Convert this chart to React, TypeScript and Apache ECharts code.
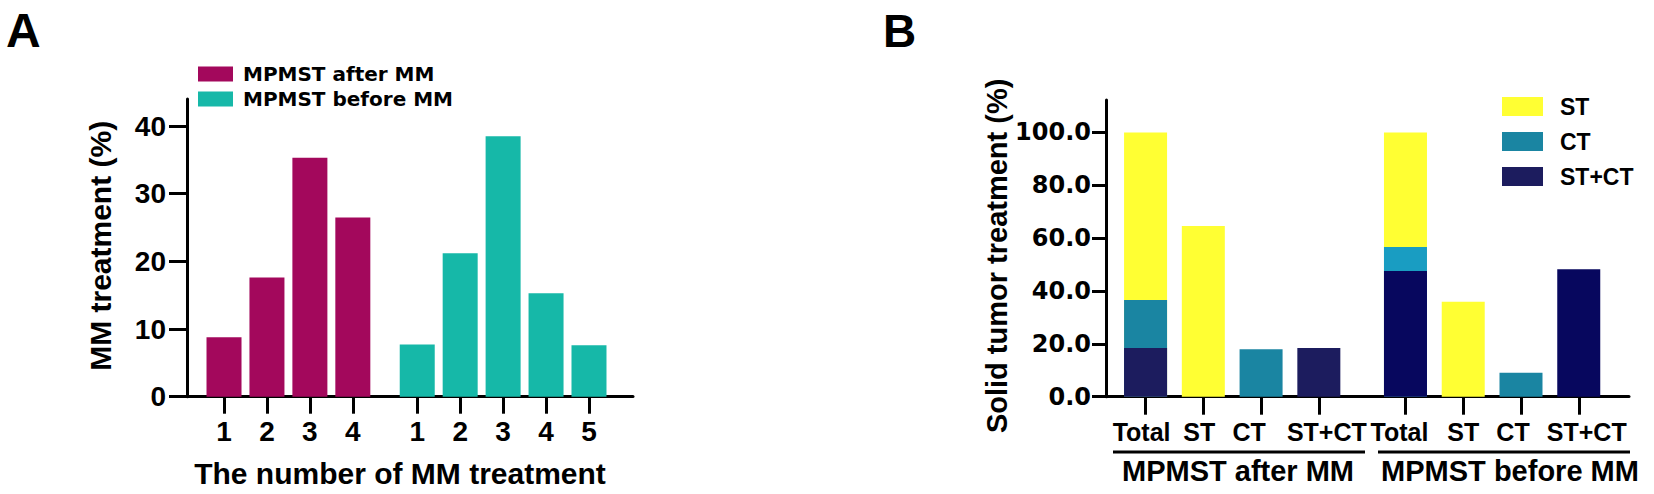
import React, { useEffect, useRef } from "react";
import * as echarts from "echarts";

// ---------- Panel A data ----------
const seriesNamesA = ["MPMST after MM", "MPMST before MM"];
const afterPosA = [1, 2, 3, 4];
const afterValuesA = [8.8, 17.6, 35.3, 26.5];
const beforePosA = [5.5, 6.5, 7.5, 8.5, 9.5];
const beforeValuesA = [7.7, 21.2, 38.5, 15.3, 7.6];
const tickPosA = [1, 2, 3, 4, 5.5, 6.5, 7.5, 8.5, 9.5];
const tickLabelsA = ["1", "2", "3", "4", "1", "2", "3", "4", "5"];
const yTicksA = [0, 10, 20, 30, 40];

// ---------- Panel B data ----------
const posB = [1, 2, 3, 4, 5.5, 6.5, 7.5, 8.5];
const tickLabelsB = ["Total", "ST", "CT", "ST+CT", "Total", "ST", "CT", "ST+CT"];
const groupLabelsB = ["MPMST after MM", "MPMST before MM"];
const legendB = ["ST", "CT", "ST+CT"];
const stValuesB = [63.4, 64.6, 0, 0, 43.3, 35.9, 0, 0];
const ctValuesB = [18.2, 0, 18.0, 0, 9.1, 0, 9.1, 0];
const stctValuesB = [18.4, 0, 0, 18.4, 47.6, 0, 0, 48.2];
const yTicksB = [0, 20, 40, 60, 80, 100];

// horizontal nudges of the B tick labels (style only)
const labelShiftB = [-4, -4, -12, 8, -6, 0, -8, 8];

const FONT = "'Liberation Sans', Arial, Helvetica, sans-serif";
const WIDE = "'DejaVu Sans', Verdana, sans-serif";
const BLACK = "#000000";

const axisLine = { show: true, lineStyle: { color: BLACK, width: 3 } };

function App() {
  const ref = useRef<HTMLDivElement>(null);

  useEffect(() => {
    if (!ref.current) return;
    const chart = echarts.init(ref.current, undefined, { renderer: "svg" });

    const pairs = (xs: number[], vs: number[]) => xs.map((x, i) => [x, vs[i]]);

    // stacked segments (bottom → top): ST+CT, CT, ST; each bar runs from 0 to the
    // running sum, and the lower segment is painted on top of it.
    const sum1 = stctValuesB.slice();
    const sum2 = sum1.map((v, i) => v + ctValuesB[i]);
    const sum3 = sum2.map((v, i) => v + stValuesB[i]);
    const seg = (own: number[], top: number[], special?: (i: number) => any) =>
      posB.map((x, i) => {
        if (!own[i]) return [x, "-"];
        const s = special ? special(i) : null;
        return s ? { value: [x, top[i]], itemStyle: s } : [x, top[i]];
      });

    const richB: any = {};
    labelShiftB.forEach((off, i) => {
      richB["s" + i] = {
        fontSize: 25,
        fontWeight: "bold",
        fontFamily: FONT,
        color: BLACK,
        padding: [0, off < 0 ? -2 * off : 0, 0, off > 0 ? 2 * off : 0],
      };
    });

    const option: any = {
      animation: false,
      backgroundColor: "#ffffff",
      textStyle: { fontFamily: FONT },
      graphic: [
        {
          type: "text",
          left: 6,
          top: 6,
          style: { text: "A", font: `bold 48px ${FONT}`, fill: BLACK },
        },
        {
          type: "text",
          left: 883,
          top: 8,
          style: { text: "B", font: `bold 46px ${FONT}`, fill: BLACK },
        },
        {
          type: "line",
          shape: { x1: 1113, y1: 452, x2: 1365, y2: 452 },
          style: { stroke: BLACK, lineWidth: 3 },
        },
        {
          type: "line",
          shape: { x1: 1378, y1: 452, x2: 1630, y2: 452 },
          style: { stroke: BLACK, lineWidth: 3 },
        },
        {
          type: "text",
          x: 1238,
          y: 456,
          style: {
            text: groupLabelsB[0],
            font: `bold 29px ${FONT}`,
            fill: BLACK,
            textAlign: "center",
            textVerticalAlign: "top",
          },
        },
        {
          type: "text",
          x: 1510,
          y: 456,
          style: {
            text: groupLabelsB[1],
            font: `bold 29px ${FONT}`,
            fill: BLACK,
            textAlign: "center",
            textVerticalAlign: "top",
          },
        },
      ],
      legend: [
        {
          data: seriesNamesA,
          orient: "vertical",
          left: 198,
          top: 64,
          padding: 0,
          itemWidth: 35,
          itemHeight: 15,
          itemGap: 5,
          icon: "rect",
          selectedMode: false,
          textStyle: {
            fontFamily: WIDE,
            fontWeight: "bold",
            fontSize: 20,
            lineHeight: 20,
            color: BLACK,
            padding: [0, 0, 0, 5],
          },
        },
        {
          data: legendB,
          orient: "vertical",
          left: 1502,
          top: 95,
          padding: 0,
          itemWidth: 41,
          itemHeight: 19,
          itemGap: 12,
          icon: "rect",
          selectedMode: false,
          textStyle: {
            fontFamily: FONT,
            fontWeight: "bold",
            fontSize: 23,
            lineHeight: 23,
            color: BLACK,
            padding: [0, 0, 0, 12],
          },
        },
      ],
      grid: [
        { left: 187, top: 99, width: 446, height: 297.7, outerBoundsMode: "none", containLabel: false },
        { left: 1106, top: 100, width: 523, height: 296.7, outerBoundsMode: "none", containLabel: false },
      ],
      xAxis: [
        {
          gridIndex: 0,
          type: "value",
          min: 0.138,
          max: 10.525,
          axisLine,
          splitLine: { show: false },
          axisTick: {
            show: true,
            length: 17,
            customValues: tickPosA,
            lineStyle: { color: BLACK, width: 3 },
          },
          axisLabel: {
            customValues: tickPosA,
            formatter: (v: number) => {
              const i = tickPosA.indexOf(v);
              return i >= 0 ? tickLabelsA[i] : "";
            },
            fontSize: 28,
            fontWeight: "bold",
            fontFamily: FONT,
            color: BLACK,
            margin: 21,
          },
          name: "The number of MM treatment",
          nameLocation: "middle",
          nameGap: 62,
          nameMoveOverlap: false,
          nameTextStyle: {
            fontSize: 30,
            fontWeight: "bold",
            fontFamily: FONT,
            color: BLACK,
            padding: [0, 20, 0, 0],
          },
        },
        {
          gridIndex: 1,
          type: "value",
          min: 0.315,
          max: 9.37,
          axisLine,
          splitLine: { show: false },
          axisTick: {
            show: true,
            length: 18,
            customValues: posB,
            lineStyle: { color: BLACK, width: 3 },
          },
          axisLabel: {
            customValues: posB,
            formatter: (v: number) => {
              const i = posB.indexOf(v);
              return i >= 0 ? `{s${i}|${tickLabelsB[i]}}` : "";
            },
            rich: richB,
            fontSize: 25,
            fontWeight: "bold",
            fontFamily: FONT,
            color: BLACK,
            margin: 23,
          },
        },
      ],
      yAxis: [
        {
          gridIndex: 0,
          type: "value",
          min: 0,
          max: 44,
          axisLine,
          splitLine: { show: false },
          axisTick: {
            show: true,
            length: 18,
            customValues: yTicksA,
            lineStyle: { color: BLACK, width: 3 },
          },
          axisLabel: {
            customValues: yTicksA,
            fontSize: 28,
            fontWeight: "bold",
            fontFamily: FONT,
            color: BLACK,
            margin: 21,
          },
          name: "MM treatment (%)",
          nameLocation: "middle",
          nameGap: 72,
          nameMoveOverlap: false,
          nameTextStyle: {
            fontSize: 30,
            fontWeight: "bold",
            fontFamily: FONT,
            color: BLACK,
            padding: [0, 0, 0, 4],
          },
        },
        {
          gridIndex: 1,
          type: "value",
          min: 0,
          max: 112.3,
          axisLine,
          splitLine: { show: false },
          axisTick: {
            show: true,
            length: 14,
            customValues: yTicksB,
            lineStyle: { color: BLACK, width: 3 },
          },
          axisLabel: {
            customValues: yTicksB,
            formatter: (v: number) => v.toFixed(1),
            fontSize: 24,
            fontWeight: "bold",
            fontFamily: WIDE,
            color: BLACK,
            margin: 15,
          },
          name: "Solid tumor treatment (%)",
          nameLocation: "middle",
          nameGap: 95,
          nameMoveOverlap: false,
          nameTextStyle: {
            fontSize: 29,
            fontWeight: "bold",
            fontFamily: FONT,
            color: BLACK,
            padding: [0, 15, 0, 0],
          },
        },
      ],
      series: [
        {
          name: seriesNamesA[0],
          type: "bar",
          xAxisIndex: 0,
          yAxisIndex: 0,
          barWidth: 35,
          barGap: "-100%",
          itemStyle: { color: "#a3085c" },
          data: pairs(afterPosA, afterValuesA),
        },
        {
          name: seriesNamesA[1],
          type: "bar",
          xAxisIndex: 0,
          yAxisIndex: 0,
          barWidth: 35,
          barGap: "-100%",
          itemStyle: { color: "#16b8a8" },
          data: pairs(beforePosA, beforeValuesA),
        },
        {
          name: "ST",
          type: "bar",
          xAxisIndex: 1,
          yAxisIndex: 1,
          barWidth: 43,
          barGap: "-100%",
          itemStyle: { color: "#ffff33" },
          data: seg(stValuesB, sum3),
        },
        {
          name: "CT",
          type: "bar",
          xAxisIndex: 1,
          yAxisIndex: 1,
          barWidth: 43,
          barGap: "-100%",
          itemStyle: { color: "#1a85a2" },
          data: seg(ctValuesB, sum2, (i) => (i === 4 ? { color: "#199dc2" } : null)),
        },
        {
          name: "ST+CT",
          type: "bar",
          xAxisIndex: 1,
          yAxisIndex: 1,
          barWidth: 43,
          barGap: "-100%",
          itemStyle: { color: "#1c1c5e" },
          data: seg(stctValuesB, sum1, (i) => (i >= 4 ? { color: "#07075e" } : null)),
        },
      ],
    };

    chart.setOption(option);
    return () => {
      chart.dispose();
    };
  }, []);

  return (
    <div
      ref={ref}
      style={{ position: "absolute", left: 0, top: 0, width: 1654, height: 494 }}
    />
  );
}

export default App;
